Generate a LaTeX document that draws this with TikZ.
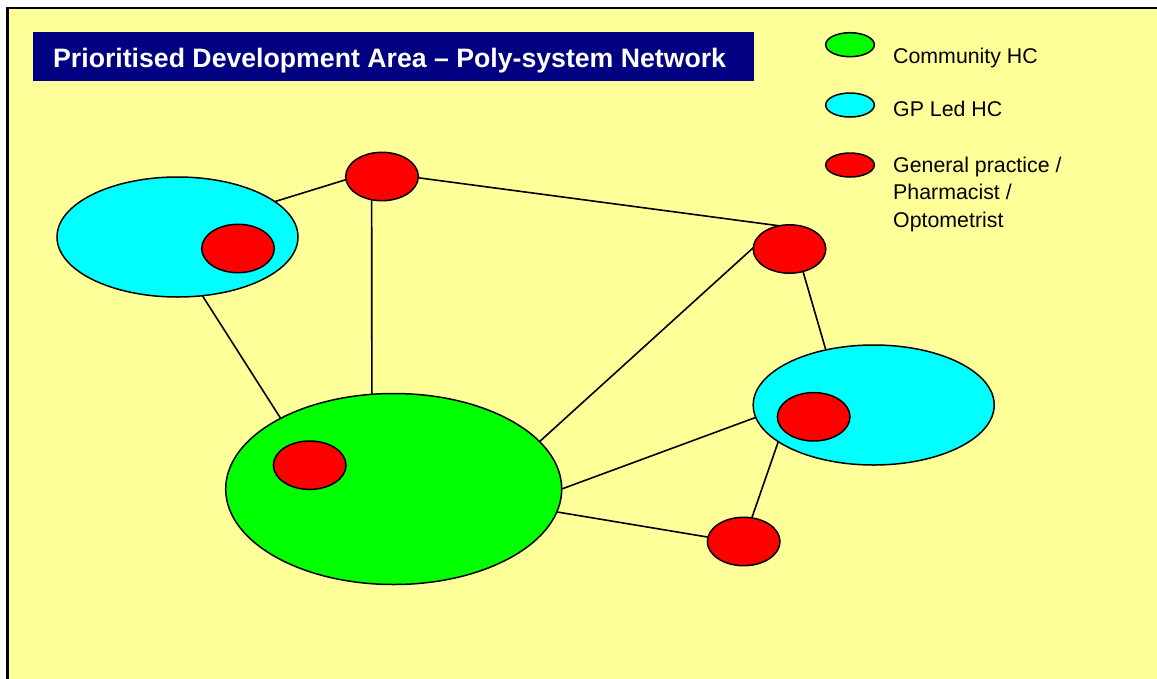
\documentclass[tikz,border=0pt]{standalone}
\usepackage{fontspec}
\setmainfont{Liberation Sans}
\usetikzlibrary{shapes.geometric}

\definecolor{hcgreen}{RGB}{0,255,0}
\definecolor{hccyan}{RGB}{0,255,255}
\definecolor{hcred}{RGB}{255,0,0}
\definecolor{bgyellow}{RGB}{255,255,153}
\definecolor{titlenavy}{RGB}{0,0,128}

\begin{document}
\begin{tikzpicture}[x=1pt,y=-1pt,
  blob/.style={ellipse, draw=black, line width=1.5pt, inner sep=0pt, outer sep=0pt},
  hcbig/.style={blob, fill=hcgreen, minimum width=336pt, minimum height=191pt},
  gpled/.style={blob, fill=hccyan, minimum width=241pt, minimum height=120pt},
  practice/.style={blob, fill=hcred, minimum width=72.6pt, minimum height=48.4pt},
  keyblob/.style={blob, minimum width=48.6pt, minimum height=24pt},
  link/.style={draw=black, line width=1.6pt},
  keytext/.style={anchor=base west, inner sep=0pt, align=left,
    font=\fontsize{21.33}{27.2}\selectfont},
  titletext/.style={anchor=base west, inner sep=0pt, text=white,
    font=\fontsize{26.67}{32}\selectfont\bfseries}
]
\useasboundingbox (0,0) rectangle (1157,678);

% page frame
\fill[white] (0,0) rectangle (1157,678);
\draw[line width=2.3pt, fill=bgyellow] (7.5,8) rectangle (1175,695);

% title banner
\fill[titlenavy] (33,32) rectangle (754,81);
\node[titletext] (title) at (53,67) {Prioritised Development Area – Poly-system Network};

% legend (multi-line label is anchored at its last baseline)
\node[keyblob, fill=hcgreen] (kcomm) at (850,44.7) {};
\node[keyblob, fill=hccyan]  (kgp)   at (850,105) {};
\node[keyblob, fill=hcred]   (kprac) at (850,165) {};
\node[keytext] (lcomm) at (893,63.3) {Community HC};
\node[keytext] (lgp)   at (893,116.7) {GP Led HC};
\node[keytext] (lprac) at (893,227.1) {General practice /\\Pharmacist /\\Optometrist};

% health centres
\node[gpled] (tl)  at (177.5,237) {};
\node[practice] (tlp) at (238,248.5) {};
\node[hcbig] (big) at (393.7,489) {};
\node[practice] (bigp) at (309.7,465.2) {};
\node[gpled] (rc)  at (873.7,405) {};
\node[practice] (rcp) at (813.7,416.8) {};

% stand-alone practices
\node[practice] (top) at (382,176.5) {};
\node[practice] (rt)  at (789.5,249) {};
\node[practice] (br)  at (743.7,541.5) {};

% network links
\draw[link] (tl.20) -- (top.185);
\draw[link] (top.-2) -- (rt.114.5);
\draw[link] (top.246) -- (big.103);
\draw[link] (tl.293) -- (big.148.5);
\draw[link] (rt.178) -- (big.18.4);
\draw[link] (rt.301) -- (rc.131);
\draw[link] (big.0) -- (rc.186);
\draw[link] (big.352) -- (br.173.5);
\draw[link] (rc.201.4) -- (br.71.2);
\end{tikzpicture}
\end{document}
